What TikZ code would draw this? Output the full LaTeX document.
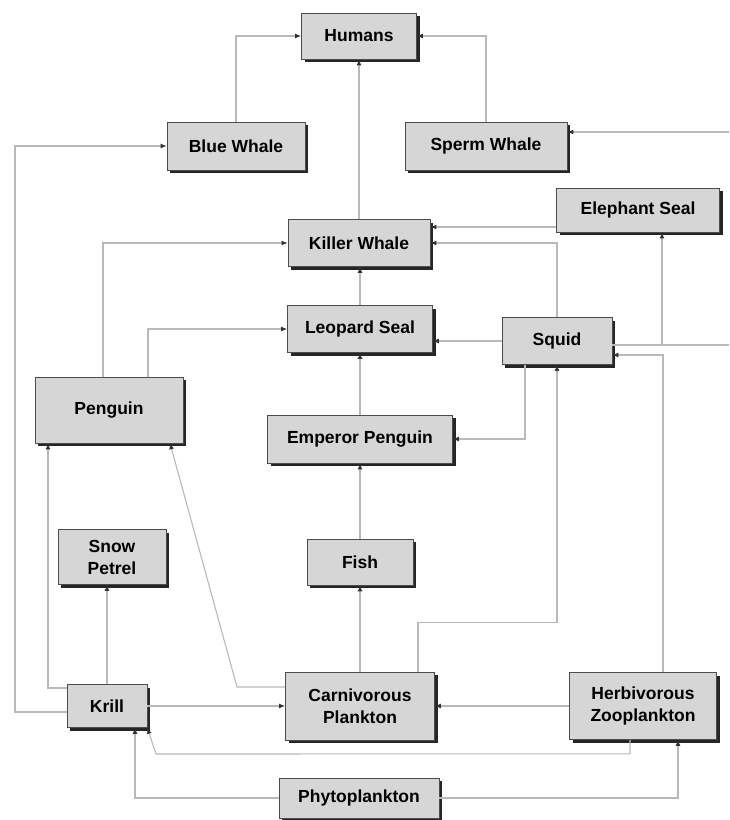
\documentclass[tikz,border=0pt]{standalone}
\usepackage{fontspec}
\setmainfont{Liberation Sans}
\usetikzlibrary{arrows.meta}
\usetikzlibrary{shadows}

\tikzset{
  organism/.style={rectangle, draw=gray!60!black, fill=gray!32, line width=0.6pt,
    drop shadow={shadow xshift=3pt, shadow yshift=-3pt, fill=gray!30!black, opacity=1},
    font=\fontsize{17.5}{22}\selectfont\bfseries, align=center, inner sep=2pt},
  link/.style={draw=gray!55, line width=1.1pt, -{Latex[length=6pt,width=5pt,color=gray!40!black]}},
  plain/.style={draw=gray!55, line width=1.1pt}
}

\begin{document}
\begin{tikzpicture}[x=1pt, y=-1pt]
    \useasboundingbox (0,0) rectangle (729,820);

    % organisms
    \draw (359,36) node[organism, minimum width=115pt, minimum height=46pt] (humans) {Humans};
    \draw (236,146) node[organism, minimum width=138pt, minimum height=48pt] (bluewhale) {Blue Whale};
    \draw (486,146) node[organism, minimum width=162pt, minimum height=48pt] (spermwhale) {Sperm Whale};
    \draw (638,210) node[organism, minimum width=163pt, minimum height=44pt] (elephantseal) {Elephant Seal};
    \draw (359,243) node[organism, minimum width=142pt, minimum height=47pt] (killerwhale) {Killer Whale};
    \draw (360,329) node[organism, minimum width=145pt, minimum height=47pt] (leopardseal) {Leopard Seal};
    \draw (557,341) node[organism, minimum width=110pt, minimum height=47pt] (squid) {Squid};
    \draw (109,410) node[organism, minimum width=148pt, minimum height=66pt] (penguin) {Penguin};
    \draw (360,439) node[organism, minimum width=185pt, minimum height=48pt] (emperor) {Emperor Penguin};
    \draw (112,557) node[organism, minimum width=108pt, minimum height=55pt] (snowpetrel) {Snow\\Petrel};
    \draw (360,562) node[organism, minimum width=106pt, minimum height=46pt] (fish) {Fish};
    \draw (107,706) node[organism, minimum width=80pt, minimum height=43pt] (krill) {Krill};
    \draw (360,706) node[organism, minimum width=149pt, minimum height=68pt] (carnivorous) {Carnivorous\\Plankton};
    \draw (643,706) node[organism, minimum width=147pt, minimum height=67pt] (herbivorous) {Herbivorous\\Zooplankton};
    \draw (359,798) node[organism, minimum width=160pt, minimum height=40pt] (phyto) {Phytoplankton};

    \coordinate (edgeA) at (729,132);
    \coordinate (edgeB) at (729,345);

    % who eats whom
    \draw[link] (bluewhale.north) |- (humans.west);
    \draw[link] (spermwhale.north) |- (humans.east);
    \draw[link] (killerwhale.north) -- (humans.south);
    \draw[link] (edgeA) -- (edgeA -| spermwhale.east);
    \draw[link] (krill.west) ++(0,6) coordinate (k0) -- (15,712) |- (bluewhale.west);

    \draw[link] (elephantseal.west) ++(0,17) coordinate (es) -- (es -| killerwhale.east);
    \draw[link] (squid.north) |- (killerwhale.east);
    \draw[link] ([xshift=-6pt]penguin.north) |- (killerwhale.west);
    \draw[link] (leopardseal.north) -- (leopardseal.north |- killerwhale.south);

    \draw[link] ([xshift=39pt]penguin.north) |- (leopardseal.west);
    \draw[link] (squid.west) -- (squid.west -| leopardseal.east);
    \draw[link] (emperor.north) -- (leopardseal.south);
    \draw[link] ([xshift=-32pt]squid.south) |- (emperor.east);
    \draw[link] (fish.north) -- (emperor.south);

    \draw[link] ([yshift=-4pt]squid.east) -| ([xshift=24pt]elephantseal.south);
    \draw[plain] ([yshift=-4pt]squid.east) -- (edgeB);
    \draw[link] ([xshift=20pt]herbivorous.north) |- ([yshift=-14pt]squid.east);
    \draw[link] ([xshift=58pt]carnivorous.north) -- ++(0,-49) -| (squid.south);

    \draw[link] (krill.west) ++(0,-18) coordinate (k1) -| ([xshift=-61pt]penguin.south);
    \draw[link] (carnivorous.west) ++(0,-19) coordinate (c1) -- (237,687) -- ([xshift=61pt]penguin.south);
    \draw[link] (krill.north) -- (krill.north |- snowpetrel.south);
    \draw[link] (carnivorous.north) -- (fish.south);

    \draw[link] (krill.east) -- (krill.east -| carnivorous.west);
    \draw[link] (herbivorous.west) -- (carnivorous.east);
    \draw[link] ([xshift=-13pt]herbivorous.south) -- ++(0,14) -- (156,754) -- (krill.south east);
    \draw[link] (phyto.west) -| ([xshift=28pt]krill.south);
    \draw[link] (phyto.east) -| ([xshift=35pt]herbivorous.south);
\end{tikzpicture}
\end{document}
